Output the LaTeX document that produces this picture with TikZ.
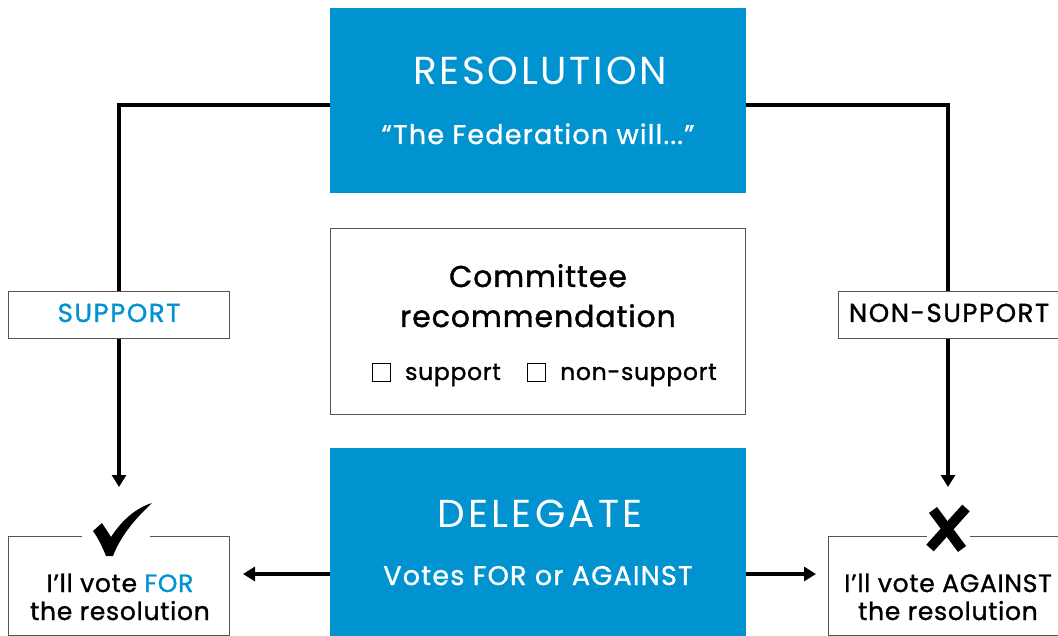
\documentclass[tikz,border=0pt]{standalone}
\usepackage{fontspec}
\setmainfont{Poppins}
\newfontfamily\reg{Poppins}[LetterSpace=7]
\newfontfamily\regw{Poppins}[LetterSpace=8.5]
\newfontfamily\med{Poppins}[FakeBold=1.2,LetterSpace=3]
\newfontfamily\medw{Poppins}[FakeBold=1.2,LetterSpace=4.5]
\newfontfamily\medcaps{Poppins}[FakeBold=1.2,LetterSpace=6]
\usetikzlibrary{arrows.meta}
\definecolor{fedblue}{HTML}{0093D0}
\definecolor{boxgray}{HTML}{555555}
\tikzset{
  bluebox/.style={fill=fedblue,draw=none,text=white},
  whitebox/.style={draw=boxgray,line width=1pt,fill=white},
  conn/.style={line width=3.2pt,black},
  arr/.style={conn,-{Triangle[length=12pt,width=14pt]}},
  lbl/.style={anchor=base,inner sep=0pt},
}
\begin{document}
\begin{tikzpicture}[x=1pt,y=-1pt]
\useasboundingbox (0,0) rectangle (1058,636);
\coordinate (lc) at (119,105);
\coordinate (rc) at (948,105);
% boxes
\node[bluebox,minimum width=416pt,minimum height=185pt,anchor=north west] (res) at (330,8) {};
\node[whitebox,minimum width=415pt,minimum height=186pt,anchor=north west] (com) at (330,228) {};
\node[bluebox,minimum width=416pt,minimum height=190pt,anchor=north west] (del) at (330,448) {};
\node[whitebox,minimum width=221pt,minimum height=47pt,anchor=north west] (sup) at (8,291) {};
\node[whitebox,minimum width=240pt,minimum height=47pt,anchor=north west] (nsup) at (838,291) {};
\node[whitebox,minimum width=221pt,minimum height=99pt,anchor=north west] (for) at (8,536) {};
\node[whitebox,minimum width=250pt,minimum height=99pt,anchor=north west] (ag) at (828,536) {};
% gaps in top borders
\fill[white] (82,530) rectangle (150,542);
\fill[white] (927,530) rectangle (970,542);
% texts
\node[lbl,text=white,font=\reg\fontsize{39}{42}\selectfont] at (540,85) {RESOLUTION};
\node[lbl,text=white,font=\medw\fontsize{27}{30}\selectfont] at (538,144) {“The Federation will...”};
\node[lbl,font=\med\fontsize{30}{36}\selectfont] at (538,287) {Committee};
\node[lbl,font=\med\fontsize{30}{36}\selectfont] at (538,327) {recommendation};
\draw[line width=1pt] (372,364) rectangle (390,382);
\draw[line width=1pt] (527,364) rectangle (545,382);
\node[lbl,anchor=base west,font=\med\fontsize{23.5}{28}\selectfont] (s1) at (405,380) {support};
\node[lbl,anchor=base west,font=\med\fontsize{23.5}{28}\selectfont] (s2) at (560,380) {non-support};
\node[lbl,text=white,font=\regw\fontsize{39}{42}\selectfont] at (540,527) {DELEGATE};
\node[lbl,text=white,font=\medw\fontsize{27}{30}\selectfont] at (538,585) {Votes FOR or AGAINST};
\node[lbl,text=fedblue,font=\medcaps\fontsize{26}{30}\selectfont] at (119,322) {SUPPORT};
\node[lbl,font=\medcaps\fontsize{26}{30}\selectfont] at (949,322) {NON-SUPPORT};
\node[lbl,font=\med\fontsize{25}{30}\selectfont] at (120,592) {I’ll vote \textcolor{fedblue}{FOR}};
\node[lbl,font=\med\fontsize{25}{30}\selectfont] at (120,620) {the resolution};
\node[lbl,font=\med\fontsize{25}{30}\selectfont] at (948,592) {I’ll vote AGAINST};
\node[lbl,font=\med\fontsize{25}{30}\selectfont] at (948,620) {the resolution};
% check mark
\fill[black] (93,531) -- (102,523) -- (111,537)
  .. controls (122,520) and (136,508) .. (152,503)
  .. controls (136,518) and (121,535) .. (113,556)
  -- (106,556) .. controls (102,546) and (98,538) .. (93,531) -- cycle;
% cross mark
\draw[line width=10pt] (933,510) -- (962,549);
\draw[line width=10pt] (966,508) -- (930,548);
% connectors
\draw[conn] (res.west |- lc) -- (lc) -- (sup.north -| lc);
\draw[arr] (sup.south -| lc) -- ++(0,148);
\draw[conn] (res.east |- rc) -- (rc) -- (nsup.north -| rc);
\draw[arr] (nsup.south -| rc) -- ++(0,148);
\draw[arr] (del.west |- 0,574) -- (243,574);
\draw[arr] (del.east |- 0,574) -- (816,574);
\end{tikzpicture}
\end{document}
